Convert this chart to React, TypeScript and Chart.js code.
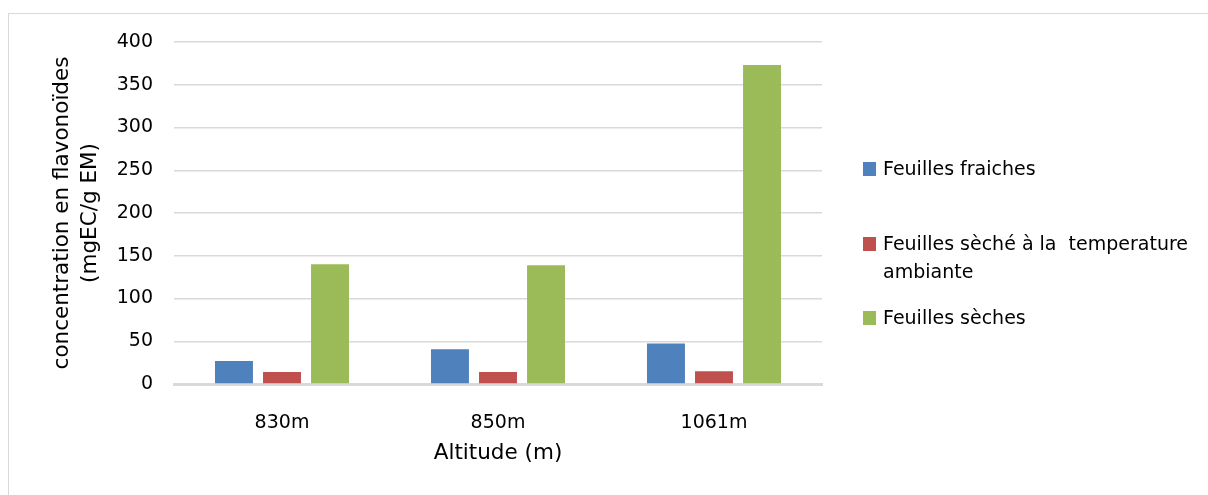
import React, { useEffect, useRef } from "react";
import { Chart, registerables } from "chart.js";

Chart.register(...registerables);

const categories = ["830m", "850m", "1061m"];
const seriesNames = [
  "Feuilles fraiches",
  "Feuilles sèché à la  temperature\nambiante",
  "Feuilles sèches",
];
const feuillesFraiches = [27, 40.5, 47.5];
const feuillesSecheAmbiante = [14, 14, 15];
const feuillesSeches = [140, 139, 373];
const seriesColors = ["#4F81BD", "#C0504D", "#9BBB59"];
const yMin = 0;
const yMax = 400;
const yStep = 50;
const yTitle = ["concentration en flavonoïdes", "(mgEC/g EM)"];
const xTitle = "Altitude (m)";

const FONT = "'DejaVu Sans', sans-serif";

export default function App() {
  const canvasRef = useRef<HTMLCanvasElement | null>(null);

  useEffect(() => {
    const canvas = canvasRef.current;
    if (!canvas) return;
    const values = [feuillesFraiches, feuillesSecheAmbiante, feuillesSeches];
    const chart = new Chart(canvas, {
      type: "bar",
      data: {
        labels: categories,
        datasets: values.map((v, i) => ({
          label: seriesNames[i],
          data: v,
          backgroundColor: seriesColors[i],
          borderWidth: 0,
          categoryPercentage: 0.667,
          barPercentage: 0.79,
        })),
      },
      options: {
        animation: false,
        responsive: false,
        devicePixelRatio: 1,
        layout: { padding: { top: 42, right: 386, bottom: 0, left: 0 } },
        plugins: {
          legend: { display: false },
          tooltip: { enabled: false },
        },
        scales: {
          x: {
            grid: { display: false },
            border: { display: true, color: "#d9d9d9", width: 3 },
            ticks: {
              color: "#000",
              padding: 20,
              font: { family: FONT, size: 19 },
            },
            title: {
              display: true,
              text: xTitle,
              color: "#000",
              font: { family: FONT, size: 21.5 },
              padding: { top: 0, bottom: 29 },
            },
            afterFit: (scale: any) => {
              scale.height = 111;
            },
          },
          y: {
            min: yMin,
            max: yMax,
            border: { display: false },
            grid: { color: "#d9d9d9", lineWidth: 1.5, drawTicks: false },
            ticks: {
              stepSize: yStep,
              color: "#000",
              padding: 21,
              font: { family: FONT, size: 19 },
            },
            title: {
              display: true,
              text: yTitle,
              color: "#000",
              font: { family: FONT, size: 21.5, lineHeight: 1.33 },
              padding: { top: 48, bottom: 0 },
            },
            afterFit: (scale: any) => {
              scale.width = 174;
            },
          },
        },
      },
    });
    return () => chart.destroy();
  }, []);

  const legendTops = [154.4, 229.4, 303.4];

  return (
    <>
      <div
        style={{
          position: "fixed",
          left: 8,
          top: 13,
          width: 1300,
          height: 600,
          borderLeft: "1px solid #d9d9d9",
          borderTop: "1px solid #d9d9d9",
        }}
      />
      <canvas
        ref={canvasRef}
        width={1208}
        height={495}
        style={{ position: "fixed", left: 0, top: 0, width: 1208, height: 495 }}
      />
      {seriesNames.map((name, i) => (
        <div
          key={name}
          style={{
            position: "fixed",
            left: 863,
            top: legendTops[i],
            fontFamily: FONT,
            fontSize: 19,
            lineHeight: "28px",
            color: "#000",
          }}
        >
          <span
            style={{
              position: "absolute",
              left: 0,
              top: 7.6,
              width: 13,
              height: 14,
              background: seriesColors[i],
            }}
          />
          <div style={{ marginLeft: 20, whiteSpace: "pre" }}>{name}</div>
        </div>
      ))}
    </>
  );
}
